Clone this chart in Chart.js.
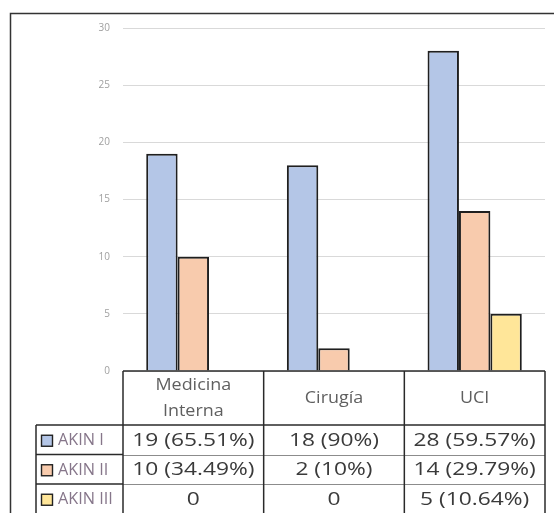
<!DOCTYPE html>
<html>
<head>
<meta charset="utf-8">
<script src="https://cdn.jsdelivr.net/npm/chart.js@4"></script>
<style>
  html, body { margin: 0; padding: 0; background: #fff; }
  #wrap { width: 554px; height: 513px; position: relative; }
</style>
</head>
<body>
<div id="wrap"><canvas id="c" width="554" height="513"></canvas></div>
<script>
// Categories (hospital services) and series
const categories = [['Medicina', 'Interna'], 'Cirugía', 'UCI'];
const seriesNames = ['AKIN I', 'AKIN II', 'AKIN III'];
const akin1 = [19, 18, 28];
const akin2 = [10, 2, 14];
const akin3 = [0, 0, 5];
const pct1 = ['65.51%', '90%', '59.57%'];
const pct2 = ['34.49%', '10%', '29.79%'];
const pct3 = ['', '', '10.64%'];
const yTicks = [0, 5, 10, 15, 20, 25, 30];

const fills = ['#b4c6e7', '#f8cbad', '#ffe699'];
const edge = '#1f1f1f';

const seriesValues = [akin1, akin2, akin3];
const seriesPct = [pct1, pct2, pct3];

function cellText(v, p) {
  return v === 0 ? '0' : v + ' (' + p + ')';
}

// text drawn with a horizontal stretch
function wideText(ctx, t, x, y, sx) {
  ctx.save();
  ctx.translate(x, y);
  ctx.scale(sx, 1);
  ctx.fillText(t, 0, 0);
  ctx.restore();
}

// Draws the frame and the data table beneath the bars
const tablePlugin = {
  id: 'dataTable',
  afterDraw(chart) {
    const ctx = chart.ctx;
    const xs = chart.scales.x;
    const area = chart.chartArea;
    const n = categories.length;
    const colW = (area.right - area.left) / n;
    const top = area.bottom;
    const headerBottom = top + 54;
    const rowH = 29.5;
    const legendLeft = 36;

    ctx.save();
    // outer frame
    ctx.strokeStyle = '#333';
    ctx.lineWidth = 1.5;
    ctx.beginPath();
    ctx.moveTo(10.5, 513);
    ctx.lineTo(10.5, 13.5);
    ctx.lineTo(554, 13.5);
    ctx.stroke();

    // inner horizontal row lines across data cells (lighter)
    ctx.strokeStyle = '#8c8c8c';
    ctx.lineWidth = 1;
    for (let r = 1; r < 3; r++) {
      const y = Math.round(headerBottom + r * rowH) + 0.5;
      ctx.beginPath();
      ctx.moveTo(area.left, y);
      ctx.lineTo(area.right, y);
      ctx.stroke();
    }

    // dark grid lines
    ctx.strokeStyle = '#2a2a2a';
    ctx.lineWidth = 1.5;
    ctx.beginPath();
    ctx.moveTo(area.left, top);
    ctx.lineTo(area.right, top);
    ctx.stroke();
    ctx.beginPath();
    ctx.moveTo(legendLeft, headerBottom);
    ctx.lineTo(area.right, headerBottom);
    ctx.stroke();
    for (let r = 1; r < 3; r++) {
      const y = headerBottom + r * rowH;
      ctx.beginPath();
      ctx.moveTo(legendLeft, y);
      ctx.lineTo(area.left, y);
      ctx.stroke();
    }
    ctx.beginPath();
    ctx.moveTo(legendLeft, headerBottom);
    ctx.lineTo(legendLeft, 513);
    ctx.stroke();
    for (let i = 0; i <= n; i++) {
      const x = area.left + i * colW;
      ctx.beginPath();
      ctx.moveTo(x, top);
      ctx.lineTo(x, 513);
      ctx.stroke();
    }

    // header labels
    ctx.fillStyle = '#5f5f5f';
    ctx.textAlign = 'center';
    ctx.textBaseline = 'middle';
    ctx.font = '16px "Open Sans", sans-serif';
    categories.forEach((c, i) => {
      const cx = xs.getPixelForValue(i);
      const lines = Array.isArray(c) ? c : [c];
      const mid = (top + headerBottom) / 2;
      const lh = 26;
      lines.forEach((t, k) => {
        wideText(ctx, t, cx, mid + (k - (lines.length - 1) / 2) * lh, 1.12);
      });
    });

    // data cells
    ctx.font = '17.5px "Open Sans", sans-serif';
    ctx.fillStyle = '#3a3a3a';
    seriesValues.forEach((vals, r) => {
      const cy = headerBottom + r * rowH + rowH / 2 + 1;
      vals.forEach((v, i) => {
        const cx = xs.getPixelForValue(i);
        wideText(ctx, cellText(v, seriesPct[r][i]), cx, cy, 1.3);
      });
    });

    // legend keys
    ctx.textAlign = 'left';
    ctx.font = '15.5px "Open Sans", sans-serif';
    seriesNames.forEach((name, r) => {
      const cy = headerBottom + r * rowH + rowH / 2 + 1;
      ctx.fillStyle = fills[r];
      ctx.fillRect(41.5, cy - 5.5, 11, 11);
      ctx.strokeStyle = '#222';
      ctx.lineWidth = 1.4;
      ctx.strokeRect(41.5, cy - 5.5, 11, 11);
      ctx.fillStyle = '#86768a';
      wideText(ctx, name, 58, cy, 1.05);
    });
    ctx.restore();
  }
};

new Chart(document.getElementById('c'), {
  type: 'bar',
  data: {
    labels: categories,
    datasets: seriesNames.map((name, i) => ({
      label: name,
      data: seriesValues[i],
      backgroundColor: fills[i],
      borderColor: edge,
      borderWidth: 2,
      borderSkipped: 'bottom',
      categoryPercentage: 0.67,
      barPercentage: 1.0
    }))
  },
  options: {
    responsive: false,
    animation: false,
    devicePixelRatio: 1,
    layout: { padding: { top: 28, right: 9, bottom: 142, left: 0 } },
    plugins: {
      legend: { display: false },
      tooltip: { enabled: false }
    },
    scales: {
      x: { display: false },
      y: {
        min: 0,
        max: 30,
        afterFit(scale) { scale.width = 123; },
        afterBuildTicks(scale) { scale.ticks = yTicks.map(v => ({ value: v })); },
        border: { display: false },
        grid: { color: '#d9d9d9', lineWidth: 1, drawTicks: false },
        ticks: {
          padding: 13,
          color: '#a0a0a0',
          font: { family: '"Open Sans", sans-serif', size: 10 }
        }
      }
    }
  },
  plugins: [tablePlugin]
});
</script>
</body>
</html>
